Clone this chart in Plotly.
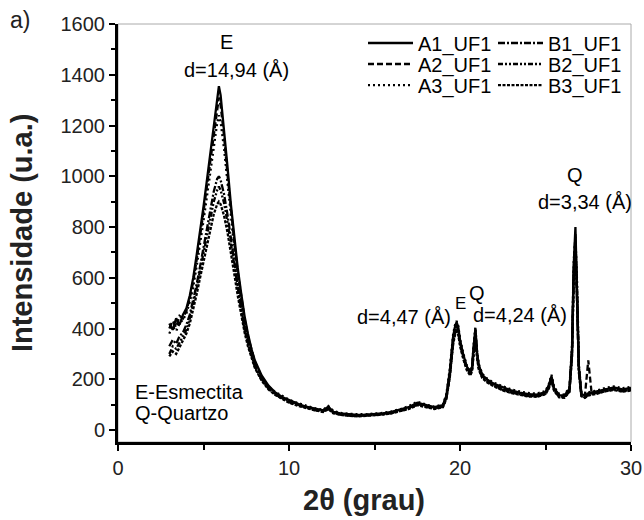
import plotly.graph_objects as go

# 2-theta grid (degrees)
two_theta = [3.0, 3.2, 3.4, 3.6, 3.8, 4.0, 4.2, 4.4, 4.6, 4.8, 5.0, 5.2, 5.4, 5.6, 5.8, 5.9, 6.0, 6.2, 6.4, 6.6,
             6.8, 7.0, 7.2, 7.4, 7.6, 7.8, 8.0, 8.4, 8.8,
             9.2, 9.6, 10.0, 10.5, 11.0, 11.5, 12.0, 12.3, 12.6, 13.0, 13.5, 14.0, 14.5, 15.0, 15.5, 16.0, 16.5,
             17.0, 17.5, 18.0, 18.5, 19.0,
             19.2, 19.4, 19.5, 19.6, 19.7, 19.8, 19.9, 20.0, 20.2, 20.4, 20.6, 20.7, 20.8, 20.9, 21.0, 21.1, 21.3,
             21.6, 22.0,
             22.5, 23.0, 23.5, 24.0, 24.5, 25.0, 25.2, 25.35, 25.5, 25.8, 26.1, 26.4, 26.55, 26.65, 26.75, 26.85,
             26.95, 27.1, 27.3, 27.5, 27.7, 28.0, 28.5, 29.0, 29.5, 30.0]

A1_UF1 = [420, 395, 440, 415, 455, 480, 530, 600, 690, 780, 880, 985, 1090, 1200, 1300, 1355, 1320, 1190, 1040, 890,
          760, 640, 540, 450, 380, 320, 275, 215, 175,
          148, 130, 118, 104, 92, 84, 78, 92, 72, 66, 62, 60, 61, 63, 66, 72, 80, 90, 108, 98, 90, 98,
          135, 230, 310, 370, 405, 425, 405, 355, 295, 250, 228, 245, 330, 400, 305, 255, 218, 198, 182,
          168, 156, 148, 142, 140, 150, 178, 212, 165, 138, 136, 162, 320, 650, 800, 560, 250, 142, 136, 145,
          148, 152, 162, 168, 160, 166]
A2_UF1 = [400, 430, 405, 450, 440, 470, 520, 585, 670, 760, 860, 960, 1060, 1170, 1270, 1310, 1280, 1160, 1010, 870,
          740, 625, 525, 440, 370, 315, 270, 210, 172,
          142, 126, 112, 100, 90, 80, 74, 86, 70, 62, 58, 57, 58, 60, 63, 68, 76, 86, 102, 94, 86, 94,
          128, 215, 295, 355, 390, 410, 392, 345, 288, 244, 222, 238, 315, 385, 295, 248, 212, 193, 178,
          162, 150, 143, 137, 136, 146, 172, 205, 160, 134, 132, 156, 305, 620, 775, 540, 240, 138, 132, 275,
          144, 148, 158, 164, 156, 162]
A3_UF1 = [380, 410, 390, 420, 435, 460, 505, 565, 645, 730, 825, 920, 1020, 1120, 1210, 1240, 1215, 1110, 975, 840,
          715, 605, 510, 430, 365, 310, 265, 208, 170,
          150, 134, 120, 107, 96, 86, 80, 95, 75, 68, 64, 62, 62, 65, 68, 74, 82, 94, 112, 101, 92, 101,
          140, 240, 320, 378, 412, 430, 410, 360, 300, 254, 232, 250, 340, 405, 312, 260, 222, 202, 186,
          172, 160, 152, 146, 144, 154, 183, 218, 170, 142, 140, 166, 330, 665, 760, 575, 258, 146, 140, 148,
          152, 156, 166, 172, 165, 170]
B1_UF1 = [330, 355, 340, 370, 385, 415, 455, 510, 575, 645, 720, 795, 870, 940, 990, 1000, 985, 930, 850, 760,
          660, 565, 480, 405, 345, 295, 255, 200, 165,
          140, 124, 110, 98, 88, 79, 73, 84, 68, 61, 57, 55, 57, 59, 62, 67, 75, 84, 100, 92, 84, 92,
          125, 210, 288, 345, 380, 398, 382, 338, 282, 240, 218, 234, 305, 372, 288, 242, 208, 190, 175,
          158, 148, 140, 134, 133, 143, 168, 200, 157, 131, 129, 152, 295, 600, 740, 520, 232, 135, 129, 138,
          141, 145, 155, 160, 153, 158]
B2_UF1 = [300, 330, 320, 345, 365, 395, 440, 495, 560, 630, 700, 770, 840, 900, 945, 960, 945, 895, 820, 735,
          640, 550, 470, 395, 340, 290, 250, 198, 163,
          145, 128, 115, 102, 91, 82, 76, 90, 71, 64, 60, 58, 60, 62, 65, 70, 78, 88, 106, 96, 88, 96,
          132, 222, 300, 362, 398, 418, 398, 350, 292, 248, 226, 242, 322, 392, 300, 252, 215, 196, 180,
          165, 153, 146, 140, 138, 148, 175, 208, 162, 136, 134, 159, 312, 635, 720, 550, 245, 140, 134, 143,
          146, 150, 160, 166, 158, 164]
B3_UF1 = [290, 310, 300, 325, 350, 380, 420, 475, 535, 600, 665, 730, 795, 850, 890, 900, 890, 845, 780, 705,
          615, 530, 455, 385, 330, 285, 245, 195, 160,
          138, 122, 108, 96, 86, 78, 71, 82, 66, 60, 56, 54, 56, 58, 61, 66, 74, 83, 98, 90, 83, 90,
          122, 205, 280, 338, 372, 390, 375, 332, 278, 236, 215, 230, 298, 365, 282, 238, 205, 187, 172,
          156, 146, 138, 132, 131, 141, 165, 196, 155, 129, 127, 150, 290, 590, 700, 510, 228, 133, 127, 136,
          139, 143, 153, 158, 151, 156]

series_names = ["A1_UF1", "B1_UF1", "A2_UF1", "B2_UF1", "A3_UF1", "B3_UF1"]
series_values = [A1_UF1, B1_UF1, A2_UF1, B2_UF1, A3_UF1, B3_UF1]
dashes = ["solid", "7px,2px,2px,2px", "6px,3px", "5px,2px,2px,2px,2px,2px", "2px,3px", "3px,1.5px"]
legends = ["legend", "legend", "legend2", "legend2", "legend3", "legend3"]

FONT = "Liberation Sans, Arial, sans-serif"

fig = go.Figure()
for name, vals, dash, lg in zip(series_names, series_values, dashes, legends):
    fig.add_trace(go.Scatter(x=two_theta, y=vals, mode="lines", name=name,
                             line=dict(color="black", width=2.3, dash=dash), legend=lg))

axis_common = dict(showgrid=False, zeroline=False, showline=True, linewidth=3, linecolor="black",
                   ticks="outside", ticklen=6, tickwidth=2, tickcolor="black", automargin=False,
                   tickfont=dict(family=FONT, size=20, color="#222"))

fig.update_xaxes(range=[0, 30], dtick=10, tick0=0,
                 minor=dict(dtick=5, ticks="outside", ticklen=5, tickwidth=2, tickcolor="black"),
                 **axis_common)
fig.update_yaxes(range=[-47, 1600], dtick=200, tick0=0,
                 minor=dict(dtick=100, ticks="outside", ticklen=4, tickwidth=2, tickcolor="black"),
                 **axis_common)

ann_font = dict(family=FONT, size=20, color="black")
annotations = [
    dict(x=6.35, y=1530, text="E"),
    dict(x=6.95, y=1418, text="d=14,94 (Å)"),
    dict(x=26.7, y=1005, text="Q"),
    dict(x=27.3, y=898, text="d=3,34 (Å)"),
    dict(x=16.7, y=445, text="d=4,47 (Å)"),
    dict(x=20.0, y=500, text="E", font=dict(family=FONT, size=17, color="black")),
    dict(x=21.0, y=540, text="Q"),
    dict(x=23.5, y=453, text="d=4,24 (Å)"),
    dict(x=0.85, y=150, text="E-Esmectita", xanchor="left"),
    dict(x=0.85, y=67, text="Q-Quartzo", xanchor="left"),
]
for a in annotations:
    a.setdefault("font", ann_font)
    a.setdefault("xanchor", "center")
    fig.add_annotation(xref="x", yref="y", yanchor="middle", showarrow=False, **a)

# axis titles and panel label
fig.add_annotation(xref="paper", yref="paper", x=-0.187, y=0.5, text="<b>Intensidade (u.a.)</b>",
                   textangle=-90, showarrow=False, xanchor="center", yanchor="middle",
                   font=dict(family=FONT, size=29, color="#222"))
fig.add_annotation(xref="paper", yref="paper", x=0.48, y=-0.139, text="<b>2θ (grau)</b>",
                   showarrow=False, xanchor="center", yanchor="middle",
                   font=dict(family=FONT, size=29, color="#222"))
fig.add_annotation(xref="paper", yref="paper", x=-0.192, y=1.01, text="a)",
                   showarrow=False, xanchor="center", yanchor="middle",
                   font=dict(family=FONT, size=23, color="#222"))

# thin grey frame (top/right)
fig.add_shape(type="rect", xref="paper", yref="paper", x0=0, x1=1, y0=0, y1=1,
              line=dict(color="#aaaaaa", width=1), layer="below")

legend_common = dict(orientation="h", yanchor="middle", xanchor="left", x=0.4776,
                     bgcolor="rgba(0,0,0,0)", borderwidth=0, entrywidth=70, entrywidthmode="pixels",
                     font=dict(family=FONT, size=20, color="black"), itemwidth=45)
fig.update_layout(
    width=644, height=520,
    margin=dict(l=118, r=13, t=24, b=78, autoexpand=False),
    paper_bgcolor="white", plot_bgcolor="white",
    legend=dict(y=0.9545, **legend_common),
    legend2=dict(y=0.9043, **legend_common),
    legend3=dict(y=0.854, **legend_common),
    showlegend=True,
)

fig.write_html("out.html")
